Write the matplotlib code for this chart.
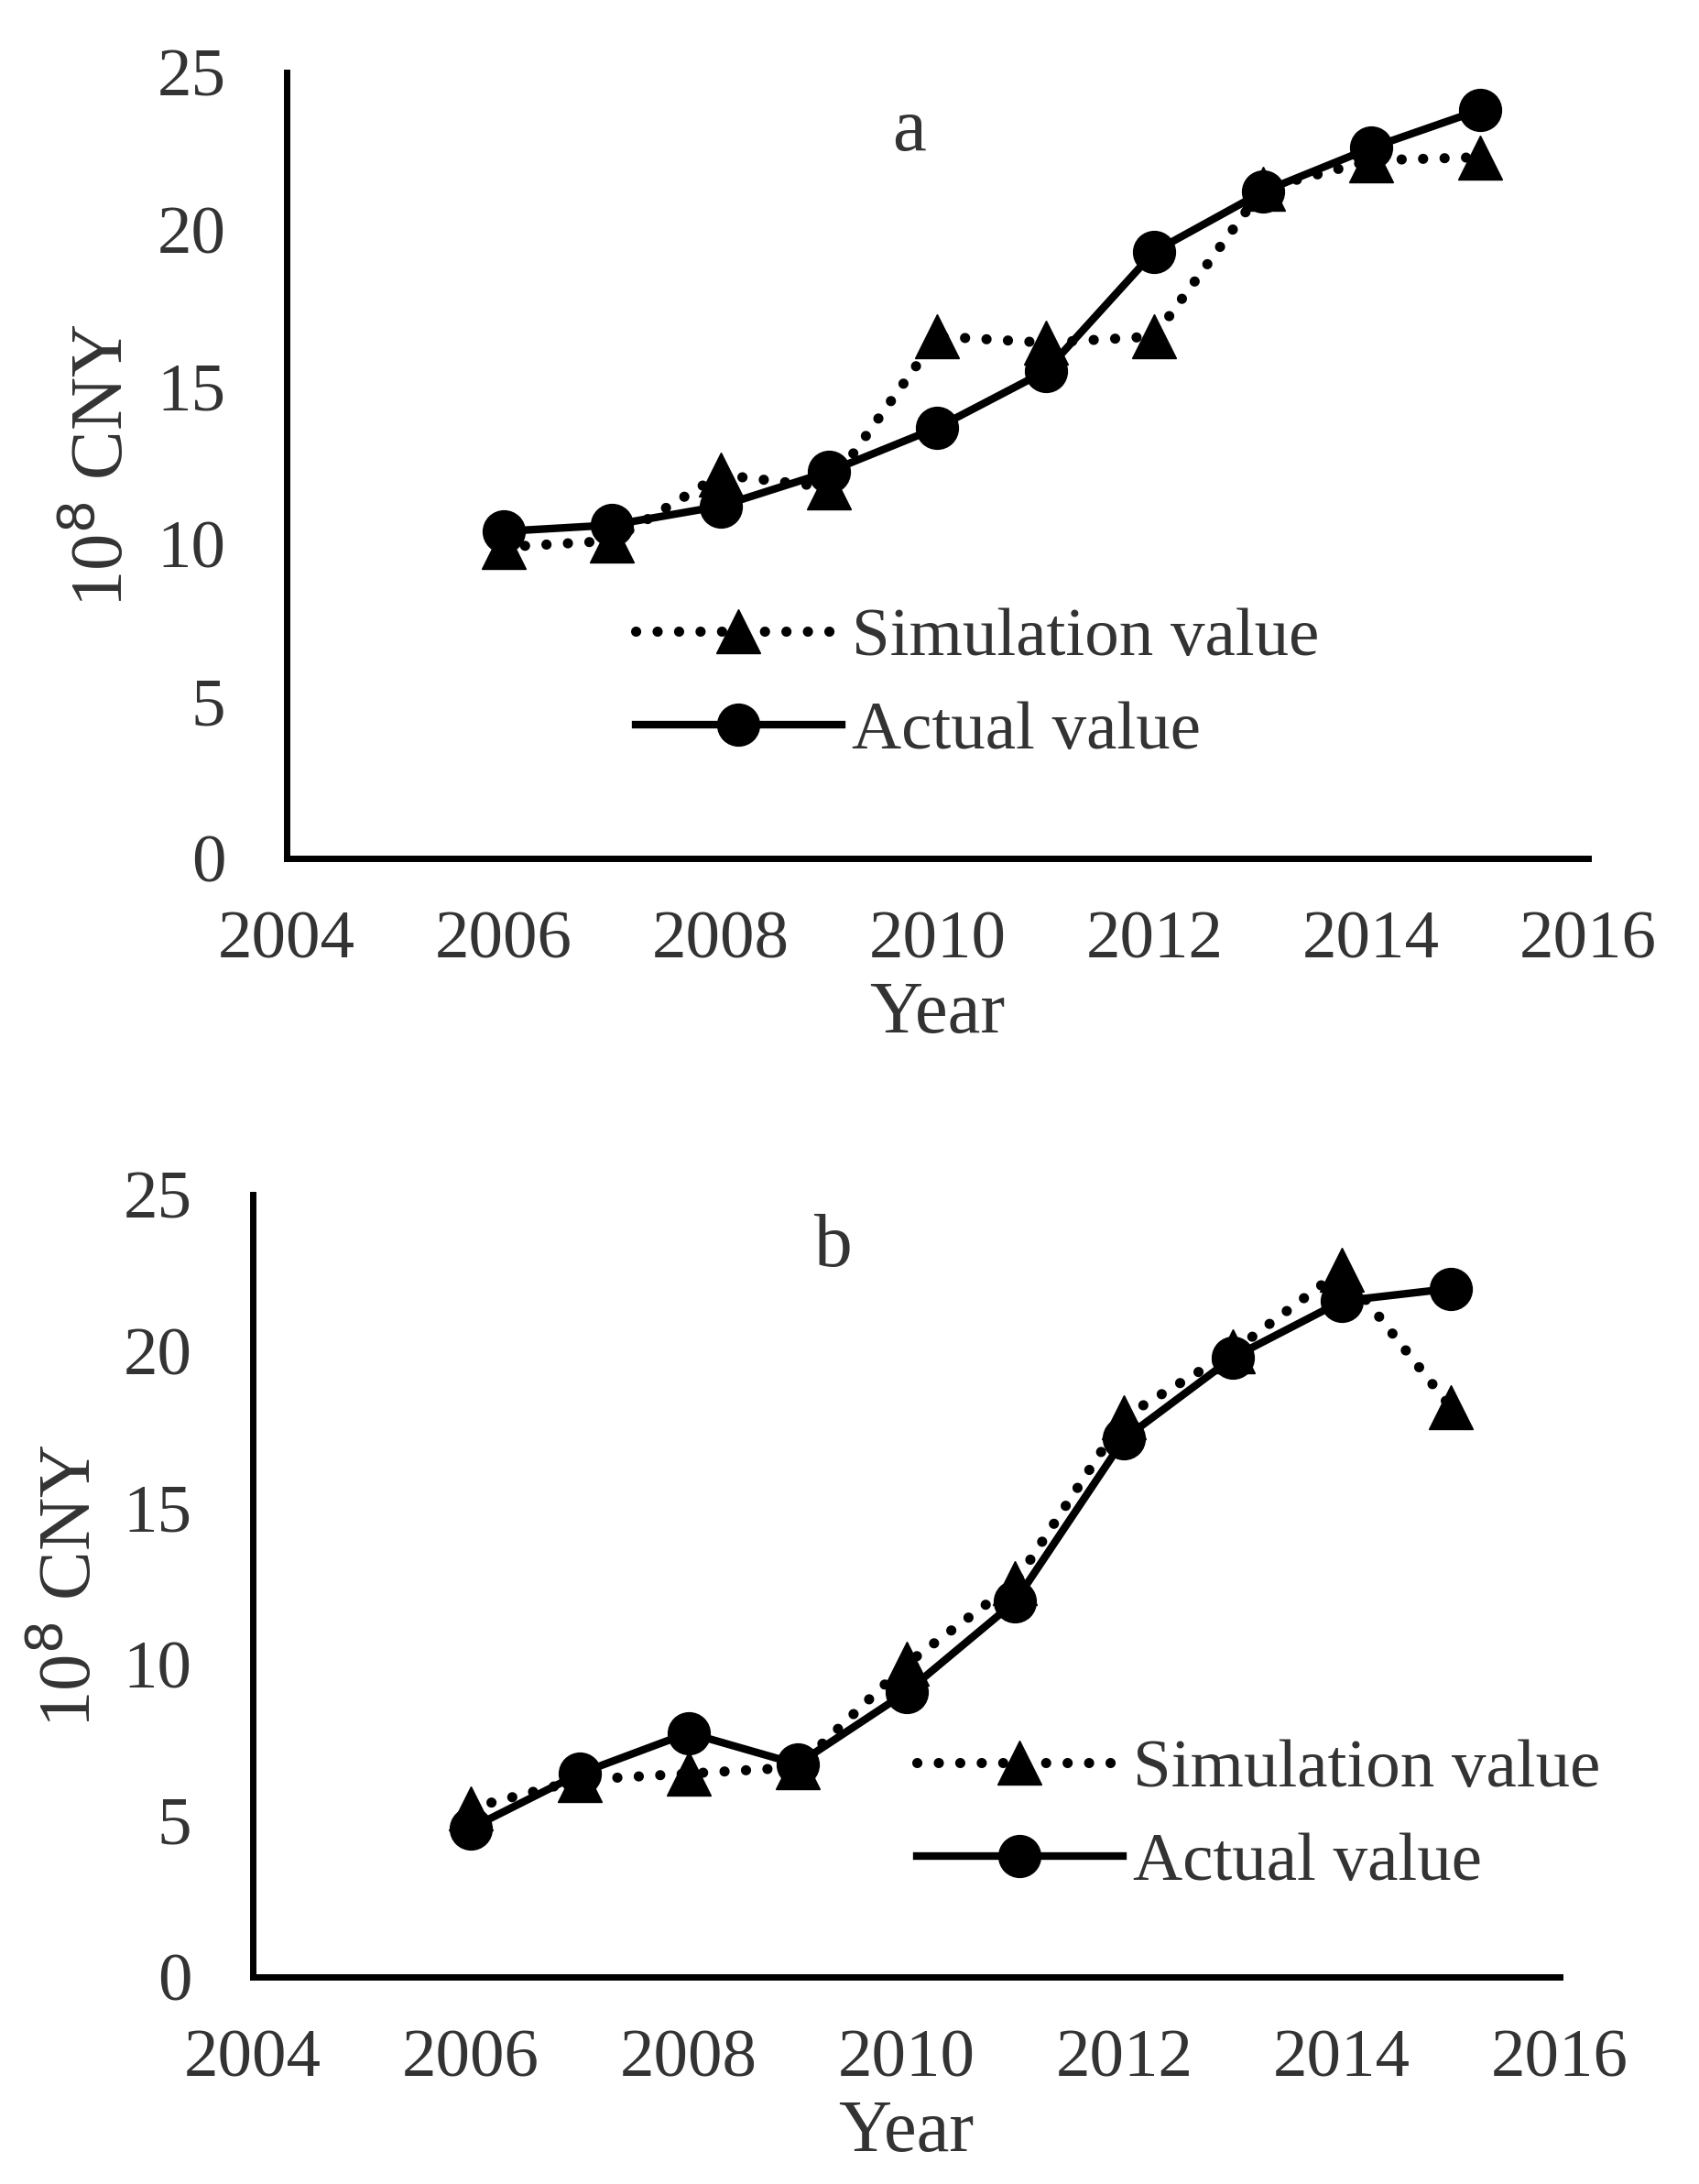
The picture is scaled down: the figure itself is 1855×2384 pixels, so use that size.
import matplotlib.pyplot as plt

years = [2006, 2007, 2008, 2009, 2010, 2011, 2012, 2013, 2014, 2015]

# panel a
sim_a = [9.9, 10.1, 12.2, 11.8, 16.6, 16.4, 16.6, 21.3, 22.2, 22.3]
act_a = [10.4, 10.6, 11.2, 12.3, 13.7, 15.5, 19.3, 21.2, 22.6, 23.8]

# panel b
sim_b = [5.4, 6.3, 6.5, 6.7, 10.0, 12.6, 17.9, 20.0, 22.6, 18.2]
act_b = [4.75, 6.5, 7.8, 6.8, 9.1, 12.0, 17.2, 19.8, 21.6, 22.0]

xticks = [2004, 2006, 2008, 2010, 2012, 2014, 2016]
yticks = [0, 5, 10, 15, 20, 25]

plt.rcParams['font.family'] = ['Liberation Serif', 'DejaVu Serif']
TXT = '#333333'
FS = 54

fig = plt.figure(figsize=(18.55, 23.84), dpi=100)
ax_a = fig.add_axes([0.1687, 0.6070, 0.7661, 0.3599])
ax_b = fig.add_axes([0.1488, 0.0948, 0.7693, 0.3582])

panels = [
    (ax_a, sim_a, act_a, 'a', (0.478, 0.924), (0.247, 0.355), -0.114),
    (ax_b, sim_b, act_b, 'b', (0.444, 0.932), (0.487, 0.34), -0.112),
]

for ax, sim, act, tag, tag_pos, leg_pos, ylab_x in panels:
    ax.plot(years, sim, color='black', lw=8, linestyle=(0, (0.01, 2.1)),
            dash_capstyle='round', marker='^', ms=35, label='Simulation value')
    ax.plot(years, act, color='black', lw=6, marker='o', ms=33,
            label='Actual value')
    ax.set_xlim(2004, 2016)
    ax.set_ylim(0, 25)
    ax.set_xticks(xticks)
    ax.set_yticks(yticks)
    ax.tick_params(length=0, labelsize=FS, labelcolor=TXT)
    ax.tick_params(axis='y', pad=48)
    ax.tick_params(axis='x', pad=41)
    for s in ['top', 'right']:
        ax.spines[s].set_visible(False)
    for s in ['left', 'bottom']:
        ax.spines[s].set_linewidth(5)
    ax.set_xlabel('Year', fontsize=58, color=TXT, labelpad=7)
    ax.set_ylabel('10$^8$ CNY', fontsize=58, color=TXT)
    ax.yaxis.set_label_coords(ylab_x, 0.5)
    ax.text(tag_pos[0], tag_pos[1], tag, transform=ax.transAxes,
            fontsize=60, color=TXT, ha='center', va='center')
    ax.legend(loc='upper left', bbox_to_anchor=leg_pos, frameon=False,
              fontsize=FS, labelcolor=TXT, handlelength=3.0,
              handletextpad=0.15, labelspacing=0.45, borderaxespad=0)

plt.savefig('out.png', dpi=100)
